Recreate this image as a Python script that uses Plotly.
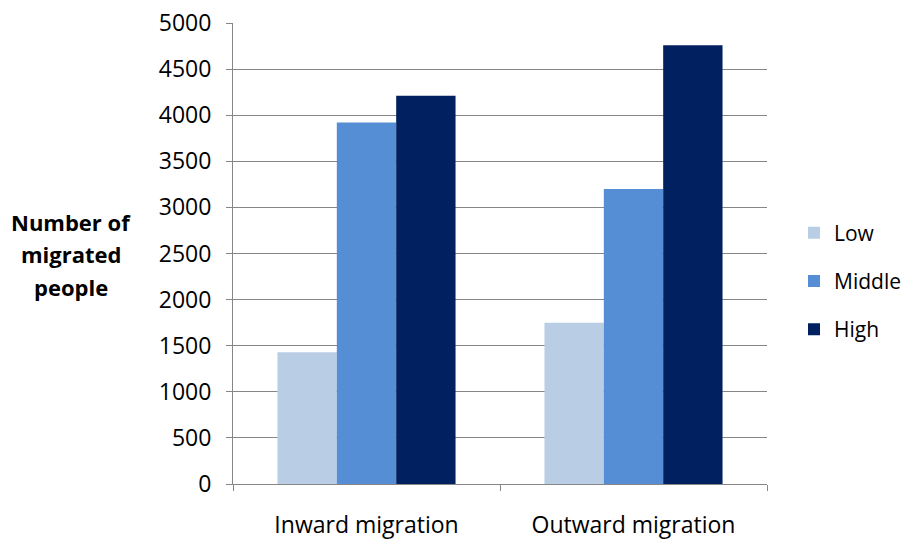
import plotly.graph_objects as go

# Migration counts by income level
categories = ["Inward migration", "Outward migration"]
series_names = ["Low", "Middle", "High"]
low_values = [1430, 1750]
middle_values = [3920, 3200]
high_values = [4210, 4760]
y_ticks = [0, 500, 1000, 1500, 2000, 2500, 3000, 3500, 4000, 4500, 5000]
title_lines = ["Number of", "migrated", "people"]

colors = ["#B9CDE5", "#558ED5", "#002060"]
font_family = "Open Sans, Liberation Sans, sans-serif"

fig = go.Figure()
for name, vals, col in zip(series_names, [low_values, middle_values, high_values], colors):
    fig.add_trace(go.Bar(
        x=categories, y=vals, name=name, legendgroup=name,
        marker=dict(color=col, line=dict(width=0)),
    ))

# Plot area spans 233..767 px horizontally and 23..484 px vertically
plot_l, plot_r, plot_t, plot_b = 233, 767, 23, 484
pw, ph = plot_r - plot_l, plot_b - plot_t

def px_x(x):
    return (x - plot_l) / pw

def px_y(y):
    return (plot_b - y) / ph

# Axis title drawn as three stacked bold lines
title_centers = [222, 254, 287]
annotations = [
    dict(text=f"<b>{line}</b>", xref="paper", yref="paper",
         x=px_x(71), y=px_y(cy), xanchor="center", yanchor="middle",
         showarrow=False, font=dict(size=22, family=font_family))
    for line, cy in zip(title_lines, title_centers)
]

fig.update_layout(
    width=908, height=540,
    margin=dict(l=plot_l, r=908 - plot_r, t=plot_t, b=540 - plot_b, autoexpand=False),
    paper_bgcolor="white", plot_bgcolor="white",
    barmode="group", bargap=0.333, bargroupgap=0,
    font=dict(family=font_family, size=23, color="#000000"),
    showlegend=True,
    legend=dict(
        x=px_x(794), y=px_y(281), xanchor="left", yanchor="middle",
        font=dict(size=21), tracegroupgap=18,
        itemwidth=30, bgcolor="rgba(0,0,0,0)",
    ),
    xaxis=dict(
        type="category", showline=True, linecolor="#868686", linewidth=1,
        ticks="outside", tickson="boundaries", ticklen=6, tickcolor="#868686",
        showgrid=False, ticklabelstandoff=20, automargin=False,
    ),
    yaxis=dict(
        range=[0, 5000], tickvals=y_ticks, showline=True, linecolor="#868686",
        linewidth=1, ticks="outside", ticklen=6, tickcolor="#868686",
        showgrid=True, gridcolor="#868686", gridwidth=1, zeroline=False,
        ticklabelstandoff=10, automargin=False,
    ),
    annotations=annotations,
)

fig.write_html("out.html")
